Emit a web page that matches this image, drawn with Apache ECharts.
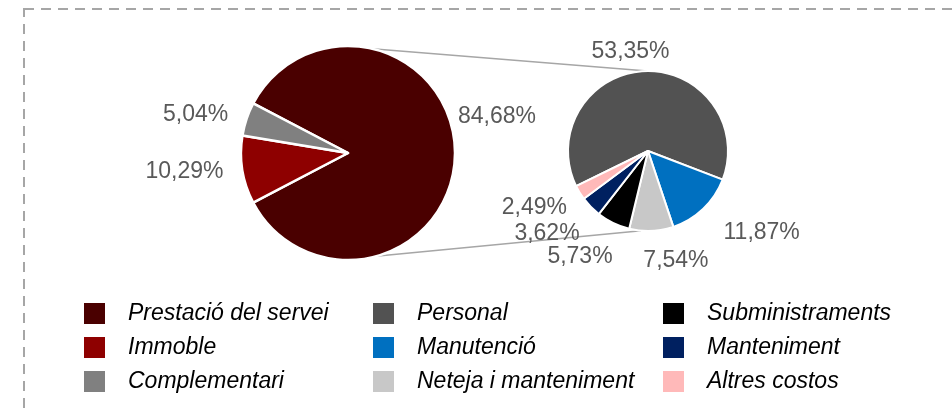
<!DOCTYPE html>
<html>
<head>
<meta charset="utf-8">
<script src="https://cdn.jsdelivr.net/npm/echarts@6/dist/echarts.min.js"></script>
<style>
  html, body { margin: 0; padding: 0; background: #fff; }
  #chart { width: 952px; height: 415px; }
</style>
</head>
<body>
<div id="chart"></div>
<script>
// pastis principal: repartiment del cost
var mainNames = ['Prestació del servei', 'Immoble', 'Complementari'];
var mainValues = [84.68, 10.29, 5.04];
var mainColors = ['#4a0000', '#8e0000', '#808080'];

// desglossament de "Prestació del servei"
var subNames = ['Personal', 'Manutenció', 'Neteja i manteniment', 'Subministraments', 'Manteniment', 'Altres costos'];
var subValues = [53.35, 11.87, 7.54, 5.73, 3.62, 2.49];
var subColors = ['#525252', '#0070c0', '#c8c8c8', '#000000', '#002060', '#ffb9b9'];

// columnes de la llegenda
var legendCol1 = ['Prestació del servei', 'Immoble', 'Complementari'];
var legendCol2 = ['Personal', 'Manutenció', 'Neteja i manteniment'];
var legendCol3 = ['Subministraments', 'Manteniment', 'Altres costos'];

var chart = echarts.init(document.getElementById('chart'));

var leftC = [348, 153], leftR = 107;
var rightC = [648, 151], rightR = 80;
var mainStart = mainValues[0] / 100 * 360 / 2;   // la porció gran centrada a la dreta
var subTotal = subValues.reduce(function (a, b) { return a + b; }, 0);
var subStart = 92.5 + subValues[0] / subTotal * 360 / 2;

function pt(c, r, deg) {
    var a = deg * Math.PI / 180;
    return [c[0] + r * Math.cos(a), c[1] - r * Math.sin(a)];
}

function fmt(p) {
    return p.value.toFixed(2).replace('.', ',') + '%';
}

function toData(names, values, colors) {
    return names.map(function (n, i) {
        return { name: n, value: values[i], itemStyle: { color: colors[i] } };
    });
}

var labelStyle = {
    show: true,
    position: 'outside',
    formatter: fmt,
    color: '#595959',
    fontSize: 23,
    fontFamily: 'Liberation Sans, Arial, sans-serif',
    distanceToLabelLine: 5
};

var legendText = {
    color: '#000',
    fontSize: 23,
    fontStyle: 'italic',
    fontFamily: 'Liberation Sans, Arial, sans-serif',
    lineHeight: 23,
    padding: [0, 0, 0, 17]
};

function legendCol(data, left) {
    return {
        data: data,
        orient: 'vertical',
        left: left,
        top: 301,
        padding: 0,
        itemWidth: 23,
        itemHeight: 23,
        itemGap: 9,
        icon: 'rect',
        selectedMode: false,
        textStyle: legendText
    };
}

var t1 = pt(leftC, leftR, 77), t2 = pt(rightC, rightR, 90.5);
var b1 = pt(leftC, leftR, -75), b2 = pt(rightC, rightR, -95);

// petits desplaçaments d'etiquetes per imitar la col·locació original
var subLabelShift = [[31, 3], [0, 8], [-14, 8], [14, 3], [8, 5], [10, 4]];

var option = {
    animation: false,
    legend: [
        legendCol(legendCol1, 82),
        legendCol(legendCol2, 371),
        legendCol(legendCol3, 661)
    ],
    graphic: [
        {
            type: 'rect',
            shape: { x: 24, y: 9, width: 1000, height: 500 },
            style: { fill: 'none', stroke: '#a6a6a6', lineWidth: 2, lineDash: [10, 7] },
            silent: true
        },
        {
            type: 'line',
            shape: { x1: t1[0], y1: t1[1], x2: t2[0], y2: t2[1] },
            style: { stroke: '#a6a6a6', lineWidth: 1.5 },
            z: -1
        },
        {
            type: 'line',
            shape: { x1: b1[0], y1: b1[1], x2: b2[0], y2: b2[1] },
            style: { stroke: '#a6a6a6', lineWidth: 1.5 },
            z: -1
        }
    ],
    series: [
        {
            type: 'pie',
            center: leftC,
            radius: leftR,
            startAngle: mainStart,
            clockwise: true,
            avoidLabelOverlap: false,
            itemStyle: { borderColor: '#fff', borderWidth: 2.5 },
            label: labelStyle,
            labelLine: { show: false, length: 14, length2: 0 },
            labelLayout: function (p) {
                if (p.dataIndex === 0) return { dx: -16, dy: -36 };
            },
            emphasis: { disabled: true },
            data: toData(mainNames, mainValues, mainColors)
        },
        {
            type: 'pie',
            center: rightC,
            radius: rightR,
            startAngle: subStart,
            clockwise: true,
            itemStyle: { borderColor: '#fff', borderWidth: 2 },
            label: labelStyle,
            labelLine: { show: false, length: 22, length2: 0 },
            labelLayout: function (p) {
                var s = subLabelShift[p.dataIndex];
                return { dx: s[0], dy: s[1] };
            },
            emphasis: { disabled: true },
            data: toData(subNames, subValues, subColors)
        }
    ]
};

chart.setOption(option);
</script>
</body>
</html>
